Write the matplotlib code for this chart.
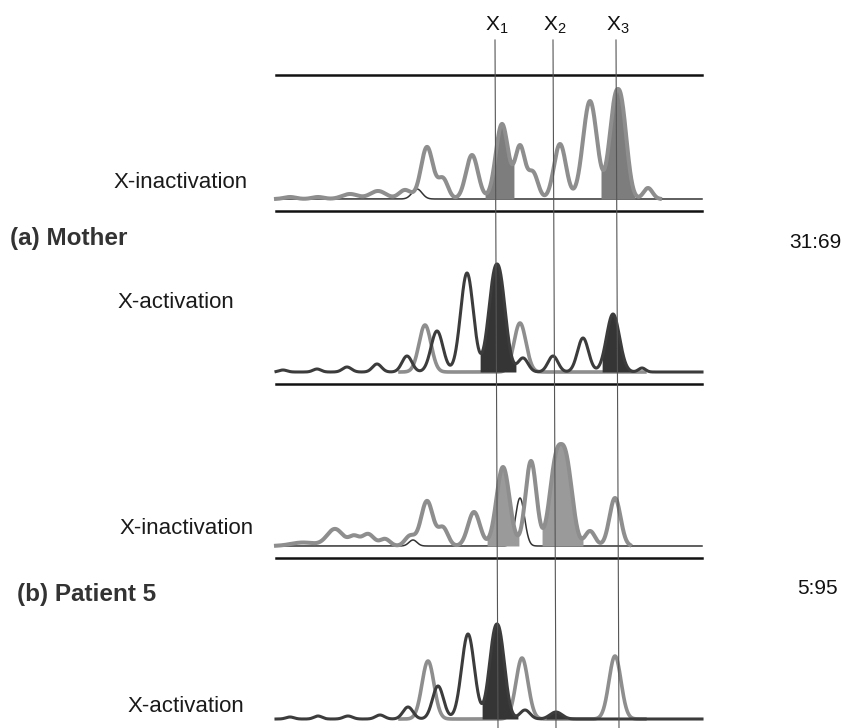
import numpy as np
import matplotlib
matplotlib.use("Agg")
import matplotlib.pyplot as plt

plt.rcParams['font.family'] = ['Liberation Sans', 'DejaVu Sans']
plt.rcParams['mathtext.fontset'] = 'custom'
plt.rcParams['mathtext.rm'] = 'Liberation Sans'
plt.rcParams['mathtext.default'] = 'regular'

# --- DATA (peak position, height, width, shape) ---
# panel 1: mother, X-inactivation
p1_light_pos = [290, 318, 350, 378, 405, 427, 443, 472, 502, 520, 533, 560, 590, 618, 648]
p1_light_h   = [2, 2, 5, 8, 9, 52, 20, 44, 75, 52, 26, 55, 98, 110, 11]
p1_light_w   = [6, 6, 8, 8, 6, 6, 5, 6, 6.2, 5, 5, 6, 7, 7.8, 4.5]
p1_light_p   = [2, 2, 2, 2, 2, 2, 2, 2, 2, 2, 2, 2, 2, 2.3, 2]
p1_dark_pos  = [417]
p1_dark_h    = [10]
p1_dark_w    = [5]
p1_dark_p    = [2]
p1_fill      = [(485, 514), (601, 635)]

# panel 2: mother, X-activation
p2_dark_pos  = [283, 317, 347, 377, 407, 437, 467, 497, 523, 553, 583, 613, 642]
p2_dark_h    = [2, 3, 5, 8, 16, 41, 99, 108, 14, 16, 34, 58, 4]
p2_dark_w    = [4, 4, 4.5, 4.5, 5, 6, 6.4, 7.8, 5, 5, 5.5, 6.5, 3.5]
p2_dark_p    = [2, 2, 2, 2, 2, 2, 2, 2.2, 2, 2, 2, 2, 2]
p2_light_pos = [425, 520]
p2_light_h   = [47, 49]
p2_light_w   = [6, 6]
p2_light_p   = [2, 2]
p2_fill      = [(480, 516), (602, 633)]

# panel 3: patient 5, X-inactivation
p3_light_pos = [303, 335, 354, 368, 385, 410, 427, 443, 474, 503, 531, 561, 590, 615]
p3_light_h   = [3.5, 17, 9, 12, 7, 10, 45, 18, 34, 79, 85, 102, 15, 48]
p3_light_w   = [12, 8, 5, 6, 5, 5, 6, 5, 6, 6.5, 5.5, 10, 5, 5.5]
p3_light_p   = [2, 2, 2, 2, 2, 2, 2, 2, 2, 2, 2, 2.6, 2, 2]
p3_dark_pos  = [413, 520]
p3_dark_h    = [6, 48]
p3_dark_w    = [4, 4.5]
p3_dark_p    = [2, 2]
p3_fill      = [(487, 519), (542, 583)]

# panel 4: patient 5, X-activation
p4_dark_pos  = [290, 318, 348, 380, 408, 438, 468, 497, 525, 556]
p4_dark_h    = [2, 3, 3, 4, 12, 33, 85, 95, 9, 7]
p4_dark_w    = [4, 4, 4.5, 4.5, 5, 5.5, 6.4, 7.2, 5, 6]
p4_dark_p    = [2, 2, 2, 2, 2, 2, 2, 2.2, 2, 2]
p4_light_pos = [428, 522, 615]
p4_light_h   = [58, 61, 63]
p4_light_w   = [6, 6, 6]
p4_light_p   = [2, 2, 2]
p4_fill      = [(482, 518), (546, 567)]

baselines = [199, 372, 546, 719]
frame_lines = [75, 211, 384, 558]
marker_names = ['X$_1$', 'X$_2$', 'X$_3$']
marker_pos = [495, 553, 616]
row_labels = ['X-inactivation', 'X-activation', 'X-inactivation', 'X-activation']
row_label_x = [113, 117, 120, 128]
row_label_y = [183, 302, 528, 706]
group_labels = ['(a) Mother', '(b) Patient 5']
group_y = [238, 594]
ratios = ['31:69', '5:95']


def trace(x, pos, h, w, p):
    y = np.zeros_like(x)
    for c, a, s, k in zip(pos, h, w, p):
        y += a * np.exp(-0.5 * np.abs((x - c) / s) ** k)
    return y


fig = plt.figure(figsize=(8.42, 7.28), dpi=100)
ax = fig.add_axes([0, 0, 1, 1])
ax.set_xlim(0, 842)
ax.set_ylim(728, 0)
ax.axis('off')

LIGHT = '#8e8e8e'
DARK = '#3c3c3c'

x_full = np.linspace(276, 702, 3000)

panels = [
    (p1_light_pos, p1_light_h, p1_light_w, p1_light_p, p1_dark_pos, p1_dark_h, p1_dark_w, p1_dark_p, p1_fill, 'light', 660),
    (p2_light_pos, p2_light_h, p2_light_w, p2_light_p, p2_dark_pos, p2_dark_h, p2_dark_w, p2_dark_p, p2_fill, 'dark', 702),
    (p3_light_pos, p3_light_h, p3_light_w, p3_light_p, p3_dark_pos, p3_dark_h, p3_dark_w, p3_dark_p, p3_fill, 'light', 630),
    (p4_light_pos, p4_light_h, p4_light_w, p4_light_p, p4_dark_pos, p4_dark_h, p4_dark_w, p4_dark_p, p4_fill, 'dark', 702),
]

for i, (lp, lh, lw_, lk, dp, dh, dw, dk, fills, main, x_end) in enumerate(panels):
    base = baselines[i]
    y_light = base - trace(x_full, lp, lh, lw_, lk)
    y_dark = base - trace(x_full, dp, dh, dw, dk)
    if main == 'light':
        # thin dark trace is just the baseline with a few bumps
        ax.plot(x_full, y_dark, color='#333333', lw=1.1, zorder=3)
        m = x_full <= x_end
        ax.plot(x_full[m], y_light[m], color=LIGHT, lw=2.9, zorder=4)
        fill_col = '#7d7d7d' if i == 0 else '#9a9a9a'
        for lo, hi in fills:
            sel = (x_full >= lo) & (x_full <= hi)
            ax.fill_between(x_full[sel], base, y_light[sel], color=fill_col, lw=0, zorder=3.5)
    else:
        m = (x_full > 400) & (x_full < 645)
        ax.plot(x_full[m], y_light[m], color=LIGHT, lw=2.6, zorder=3)
        ax.plot(x_full, y_dark, color=DARK, lw=2.2, zorder=4)
        for lo, hi in fills:
            sel = (x_full >= lo) & (x_full <= hi)
            ax.fill_between(x_full[sel], base, y_dark[sel], color='#353535', lw=0, zorder=3.5)

# frame lines between panels
for y in frame_lines:
    ax.plot([276, 702], [y, y], color='#111111', lw=1.8, zorder=2)

# marker lines X1, X2, X3
for name, xp in zip(marker_names, marker_pos):
    ax.plot([xp, xp + 3], [40, 728], color='#555555', lw=0.8, zorder=5)
    ax.text(xp + 2, 25, name, fontsize=15, ha='center', va='center', color='#111111')

for lab, xl, yl in zip(row_labels, row_label_x, row_label_y):
    ax.text(xl, yl, lab, fontsize=16, ha='left', va='center', color='#1a1a1a')

ax.text(10, group_y[0], group_labels[0], fontsize=17.5, fontweight='bold',
        ha='left', va='center', color='#333333')
ax.text(17, group_y[1], group_labels[1], fontsize=17.5, fontweight='bold',
        ha='left', va='center', color='#333333')

ax.text(841, 243, ratios[0], fontsize=15, ha='right', va='center', color='#111111')
ax.text(838, 588, ratios[1], fontsize=15, ha='right', va='center', color='#111111')

fig.savefig("out.png", dpi=100)
